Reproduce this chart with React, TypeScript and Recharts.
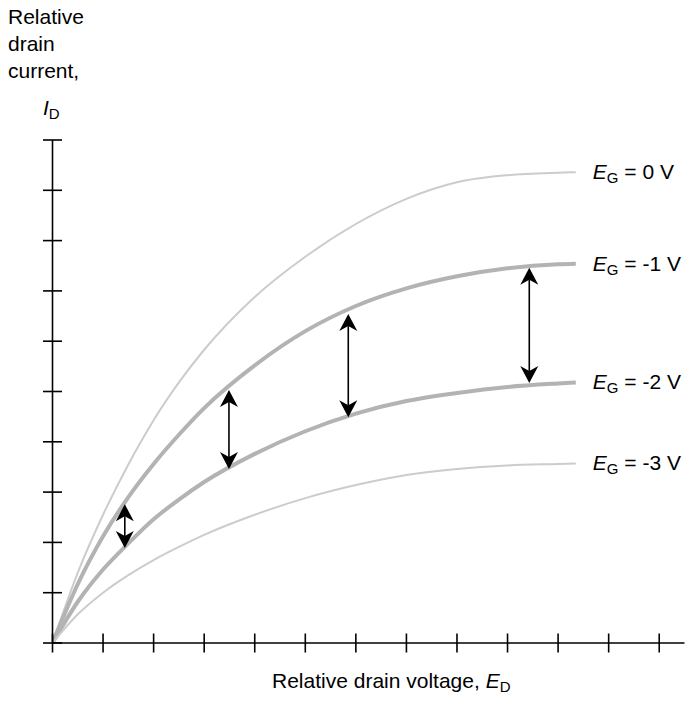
import React from 'react'
import { LineChart, Line, XAxis, YAxis, ReferenceLine } from 'recharts'

// relative drain voltage (one unit per x tick)
const drainVoltage = [0, 0.5, 1, 1.5, 2, 2.5, 3, 4, 5, 6, 7, 8, 9, 10, 10.35]
// relative drain current for each gate voltage
const gate0 = [0, 1.4, 2.55, 3.55, 4.43, 5.18, 5.83, 6.88, 7.68, 8.33, 8.83, 9.16, 9.3, 9.35, 9.36]
const gate1 = [0, 1.17, 2.12, 2.9, 3.56, 4.14, 4.67, 5.52, 6.2, 6.7, 7.05, 7.29, 7.45, 7.53, 7.54]
const gate2 = [0, 0.82, 1.46, 1.98, 2.46, 2.85, 3.2, 3.76, 4.21, 4.56, 4.81, 4.97, 5.09, 5.16, 5.18]
const gate3 = [0, 0.57, 1.0, 1.35, 1.65, 1.91, 2.15, 2.55, 2.88, 3.14, 3.34, 3.46, 3.53, 3.56, 3.57]
const gateNames = ['0', '-1', '-2', '-3']

// double arrows between the -1 V and -2 V curves
const arrowAt = [1.43, 3.49, 5.85, 9.43]
const arrowTop = [2.76, 5.03, 6.54, 7.46]
const arrowBottom = [1.89, 3.46, 4.49, 5.17]

const xTicks = [0, 1, 2, 3, 4, 5, 6, 7, 8, 9, 10, 11, 12]
const yTicks = [0, 1, 2, 3, 4, 5, 6, 7, 8, 9, 10]

const data = drainVoltage.map((u, i) => ({
  u,
  g0: gate0[i],
  g1: gate1[i],
  g2: gate2[i],
  g3: gate3[i],
}))

const FONT = '"Liberation Sans", Arial, Helvetica, sans-serif'
const last = drainVoltage.length - 1

const endLabel = (name: string) => (p: any) => {
  if (p.index !== last) return <g key={`d${p.index}`} />
  return (
    <text key="lbl" x={p.cx + 17} y={p.cy + 7} fontFamily={FONT} fontSize={21} fill="#000">
      <tspan fontStyle="italic">E</tspan>
      <tspan fontSize={15} dy={4}>G</tspan>
      <tspan dy={-4}>{` = ${name} V`}</tspan>
    </text>
  )
}

const XTick = (p: any) => (
  <line x1={p.x} x2={p.x} y1={p.y - 9.5} y2={p.y + 9.5} stroke="#000" strokeWidth={1.6} />
)
const YTick = (p: any) => (
  <line x1={p.x - 9.5} x2={p.x + 9.5} y1={p.y} y2={p.y} stroke="#000" strokeWidth={1.6} />
)

const Arrow = (p: any) => {
  const x = p.x1
  const top = Math.min(p.y1, p.y2)
  const bottom = Math.max(p.y1, p.y2)
  const L = 17
  const W = 9
  const N = 12
  return (
    <g>
      <line x1={x} x2={x} y1={top + N} y2={bottom - N} stroke="#000" strokeWidth={1.6} />
      <path d={`M${x},${top} L${x + W},${top + L} L${x},${top + N} L${x - W},${top + L}Z`} fill="#000" />
      <path d={`M${x},${bottom} L${x + W},${bottom - L} L${x},${bottom - N} L${x - W},${bottom - L}Z`} fill="#000" />
    </g>
  )
}

const curves = [
  { key: 'g0', color: '#cccccc', width: 2 },
  { key: 'g1', color: '#b3b3b3', width: 4 },
  { key: 'g2', color: '#b3b3b3', width: 4 },
  { key: 'g3', color: '#cccccc', width: 2 },
]

export default function App() {
  return (
    <div style={{ position: 'absolute', left: 0, top: 0, width: 686, height: 705, fontFamily: FONT }}>
      <LineChart
        width={686}
        height={705}
        data={data}
        margin={{ top: 140, right: 1.5, bottom: 32, left: 0 }}
      >
        <XAxis
          dataKey="u"
          type="number"
          domain={[0, 12.5]}
          ticks={xTicks}
          allowDataOverflow
          height={30}
          tickSize={0}
          tickMargin={0}
          tickLine={false}
          tick={<XTick />}
          axisLine={{ stroke: '#000', strokeWidth: 1.6 }}
        />
        <YAxis
          type="number"
          domain={[0, 10]}
          ticks={yTicks}
          allowDataOverflow
          width={52.5}
          tickSize={0}
          tickMargin={0}
          tickLine={false}
          tick={<YTick />}
          axisLine={{ stroke: '#000', strokeWidth: 1.6 }}
        />
        {curves.map((c, i) => (
          <Line
            key={c.key}
            dataKey={c.key}
            type="monotone"
            stroke={c.color}
            strokeWidth={c.width}
            dot={endLabel(gateNames[i])}
            activeDot={false}
            isAnimationActive={false}
          />
        ))}
        {arrowAt.map((u, i) => (
          <ReferenceLine
            key={`a${i}`}
            segment={[
              { x: u, y: arrowTop[i] },
              { x: u, y: arrowBottom[i] },
            ]}
            shape={Arrow}
          />
        ))}
      </LineChart>
      <svg
        width={686}
        height={705}
        style={{ position: 'absolute', left: 0, top: 0, pointerEvents: 'none' }}
      >
        <g fontFamily={FONT} fontSize={21} fill="#000">
          <text x={8} y={24}>Relative</text>
          <text x={8} y={51}>drain</text>
          <text x={8} y={78}>current,</text>
          <text x={43} y={115}>
            <tspan fontStyle="italic">I</tspan>
            <tspan fontSize={15} dy={4}>D</tspan>
          </text>
          <text x={272} y={688}>
            Relative drain voltage, <tspan fontStyle="italic">E</tspan>
            <tspan fontSize={15} dy={4}>D</tspan>
          </text>
        </g>
      </svg>
    </div>
  )
}
